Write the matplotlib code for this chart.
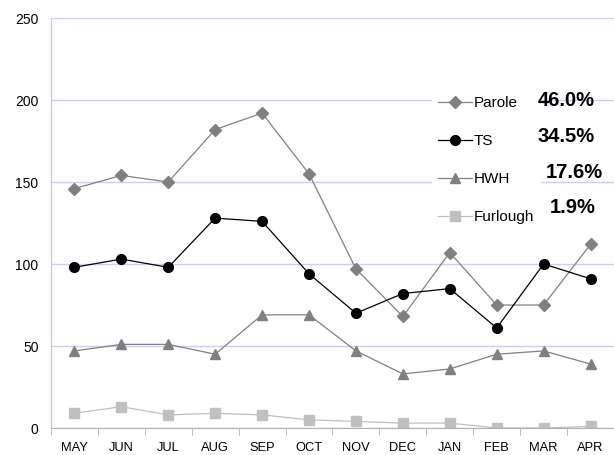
import numpy as np
from matplotlib import pyplot as plt

plt.rcParams['font.family'] = ['Liberation Sans', 'DejaVu Sans']

# monthly counts
months = ["MAY", "JUN", "JUL", "AUG", "SEP", "OCT", "NOV", "DEC", "JAN", "FEB", "MAR", "APR"]
parole = [146, 154, 150, 182, 192, 155, 97, 68, 107, 75, 75, 112]
ts = [98, 103, 98, 128, 126, 94, 70, 82, 85, 61, 100, 91]
hwh = [47, 51, 51, 45, 69, 69, 47, 33, 36, 45, 47, 39]
furlough = [9, 13, 8, 9, 8, 5, 4, 3, 3, 0, 0, 1]
shares = ["46.0%", "34.5%", "17.6%", "1.9%"]

fig = plt.figure(figsize=(6.14, 4.55), dpi=100)
ax = fig.add_axes([0.083, 0.0593, 0.917, 0.9011])

x = np.arange(len(months))
ax.plot(x, parole, color="#808080", lw=0.9, marker="D", ms=6.3, label="Parole")
ax.plot(x, ts, color="black", lw=0.9, marker="o", ms=7, label="TS")
ax.plot(x, hwh, color="#808080", lw=0.9, marker="^", ms=7.5, label="HWH")
ax.plot(x, furlough, color="#c0c0c0", lw=0.9, marker="s", ms=6.5, label="Furlough")

ax.set_xlim(-0.5, 11.5)
ax.set_ylim(0, 250)
ax.set_yticks([0, 50, 100, 150, 200, 250])
ax.set_xticks(x)
ax.set_xticklabels(months)
ax.set_xticks(np.arange(-0.5, 12, 1), minor=True)
ax.tick_params(axis="x", which="major", length=0, labelsize=9.3, pad=10)
ax.tick_params(axis="x", which="minor", length=5, color="#b0b0b0", direction="out")
ax.tick_params(axis="y", length=0, labelsize=10, pad=9)
ax.grid(axis="y", color="#ccccff", lw=1)
ax.set_axisbelow(True)
for s in ["top", "right"]:
    ax.spines[s].set_visible(False)
ax.spines["left"].set_color("#c8c8c8")
ax.spines["bottom"].set_color("#b0b0b0")

leg = ax.legend(loc="upper left", bbox_to_anchor=(432 / 614, 1 - 90 / 455),
                bbox_transform=fig.transFigure, fontsize=11, frameon=True,
                facecolor="white", edgecolor="none", framealpha=1, fancybox=False,
                handlelength=2.2, handletextpad=0.15, labelspacing=1.57,
                borderpad=0.4, borderaxespad=0)
leg.get_frame().set_width(180)

pct_pos = [(566, 100), (566, 137), (574, 172), (573, 208)]
for (px, py), s in zip(pct_pos, shares):
    fig.text(px / 614, 1 - py / 455, s, fontsize=14.5, fontweight="bold",
             ha="center", va="center")

fig.savefig("out.png", dpi=100)
